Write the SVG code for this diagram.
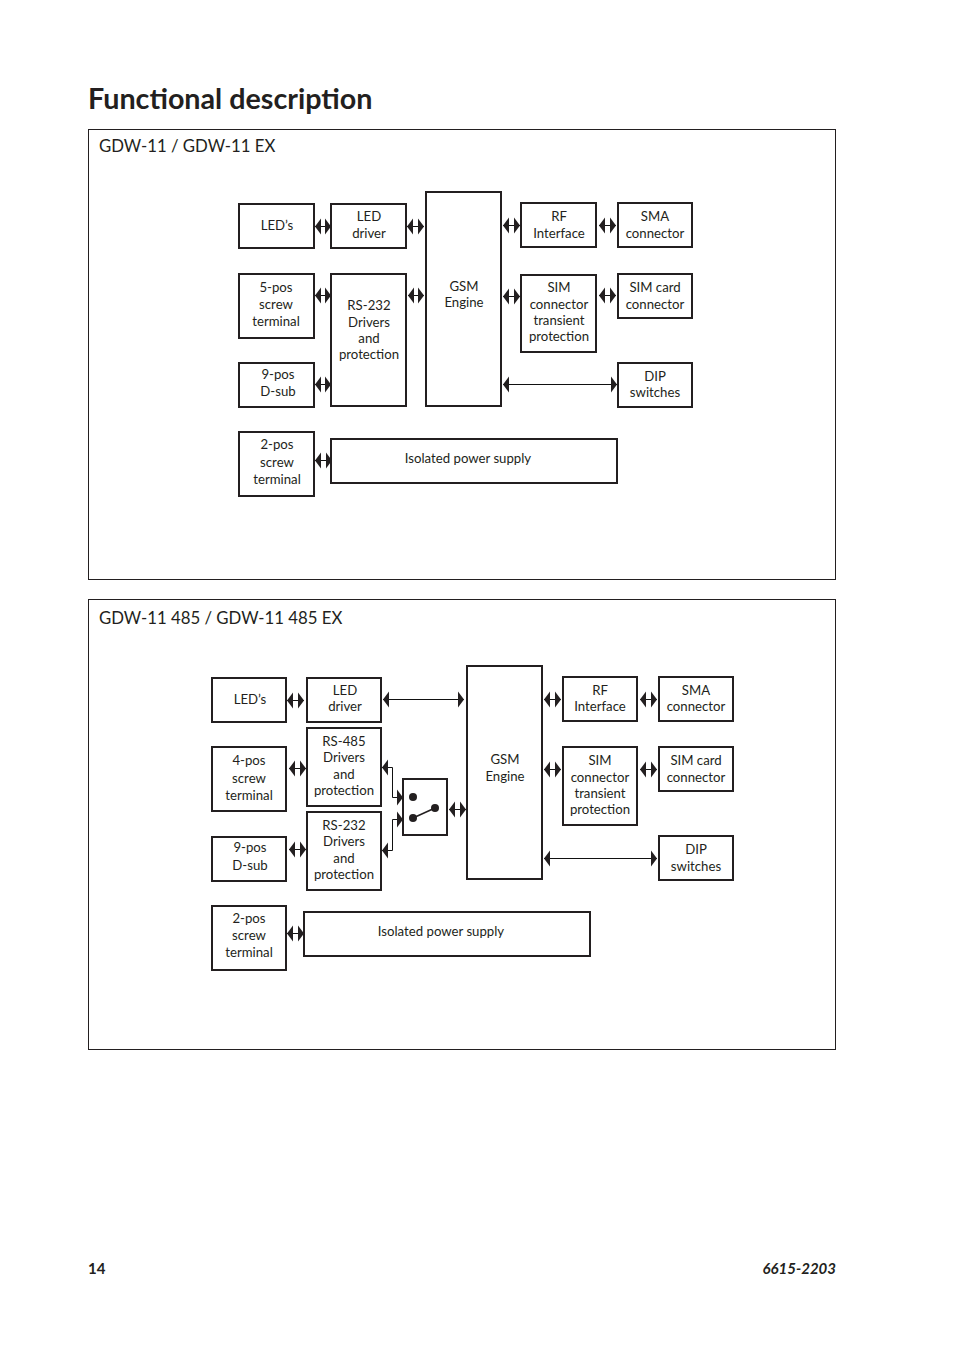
<svg xmlns="http://www.w3.org/2000/svg" width="954" height="1354" viewBox="0 0 954 1354">
<style>
text{font-family:Lato,"Open Sans","Liberation Sans",sans-serif;fill:#231f20}
.b{fill:#fff;stroke:#231f20;stroke-width:2}
.p{fill:#fff;stroke:#231f20;stroke-width:1}
.t{font-size:13.2px;text-anchor:middle}
.h{font-size:16.8px}
.c{fill:none;stroke:#111;stroke-width:1;marker-start:url(#a);marker-end:url(#a)}
.l{fill:none;stroke:#231f20;stroke-width:1.5}
</style>
<defs>
<marker id="a" markerUnits="userSpaceOnUse" markerWidth="7" markerHeight="18" refX="6.500" refY="9" orient="auto-start-reverse" viewBox="0 0 7 18"><path d="M0.500 1V17L6.500 9Z" fill="#231f20"/></marker>
</defs>
<rect width="954" height="1354" fill="#fff"/>
<text x="88" y="109" font-size="28.7" font-weight="700">Functional description</text>
<g id="panel-1"><rect class="p" x="88.5" y="129.5" width="747" height="450"/><text class="h" x="99" y="152">GDW-11 / GDW-11 EX</text></g>
<g id="panel-2"><rect class="p" x="88.5" y="599.5" width="747" height="450"/><text class="h" x="99" y="624">GDW-11 485 / GDW-11 485 EX</text></g>
<g id="connectors">
<path class="c" d="M315 226.500H331"/>
<path class="c" d="M407 226.500H424"/>
<path class="c" d="M503 225.500H520"/>
<path class="c" d="M599 225.500H616"/>
<path class="c" d="M315 295.500H331"/>
<path class="c" d="M408 295.500H424"/>
<path class="c" d="M503 296.500H520"/>
<path class="c" d="M599 295.500H616"/>
<path class="c" d="M315 384.500H331"/>
<path class="c" d="M503 384.500H617"/>
<path class="c" d="M315 460.500H332"/>
<path class="c" d="M287 700.500H304"/>
<path class="c" d="M383 699.500H464"/>
<path class="c" d="M544 699.500H561"/>
<path class="c" d="M640 699.500H657"/>
<path class="c" d="M289 768.500H306"/>
<path class="c" d="M544 769.500H561"/>
<path class="c" d="M640 769.500H657"/>
<path class="c" d="M289 849.500H306"/>
<path class="c" d="M544 858.500H657"/>
<path class="c" d="M287 933.500H304"/>
<path class="c" d="M449 809.500H466"/>
<path class="c" d="M382 767.500H392.500V797.500H403"/>
<path class="c" d="M382 850.500H392.500V819.500H403"/>
</g>
<g id="leds-1"><rect class="b" x="239" y="204" width="75" height="44"/><text class="t" x="277" y="230">LED’s</text></g>
<g id="led-driver-1"><rect class="b" x="331" y="204" width="75" height="44"/><text class="t" x="369" y="221">LED</text><text class="t" x="369" y="238">driver</text></g>
<g id="gsm-1"><rect class="b" x="426" y="192" width="75" height="214"/><text class="t" x="464" y="291">GSM</text><text class="t" x="464" y="307">Engine</text></g>
<g id="rf-1"><rect class="b" x="521" y="203" width="75" height="44"/><text class="t" x="559" y="221">RF</text><text class="t" x="559" y="238">Interface</text></g>
<g id="sma-1"><rect class="b" x="618" y="203" width="74" height="44"/><text class="t" x="655" y="221">SMA</text><text class="t" x="655" y="238">connector</text></g>
<g id="pos5-1"><rect class="b" x="239" y="274" width="75" height="64"/><text class="t" x="276" y="292">5-pos</text><text class="t" x="276" y="309">screw</text><text class="t" x="276" y="326">terminal</text></g>
<g id="rs232-1"><rect class="b" x="331" y="274" width="75" height="132"/><text class="t" x="369" y="310">RS-232</text><text class="t" x="369" y="327">Drivers</text><text class="t" x="369" y="343">and</text><text class="t" x="369" y="359">protection</text></g>
<g id="sim-1"><rect class="b" x="521" y="275" width="75" height="77"/><text class="t" x="559" y="292">SIM</text><text class="t" x="559" y="309">connector</text><text class="t" x="559" y="325">transient</text><text class="t" x="559" y="341">protection</text></g>
<g id="simcard-1"><rect class="b" x="618" y="274" width="74" height="44"/><text class="t" x="655" y="292">SIM card</text><text class="t" x="655" y="309">connector</text></g>
<g id="pos9-1"><rect class="b" x="239" y="363" width="75" height="44"/><text class="t" x="278" y="379">9-pos</text><text class="t" x="278" y="396">D-sub</text></g>
<g id="dip-1"><rect class="b" x="618" y="363" width="74" height="44"/><text class="t" x="655" y="381">DIP</text><text class="t" x="655" y="397">switches</text></g>
<g id="pos2-1"><rect class="b" x="239" y="432" width="75" height="64"/><text class="t" x="277" y="449">2-pos</text><text class="t" x="277" y="467">screw</text><text class="t" x="277" y="484">terminal</text></g>
<g id="psu-1"><rect class="b" x="331" y="439" width="286" height="44"/><text class="t" x="468" y="463">Isolated power supply</text></g>
<g id="leds-2"><rect class="b" x="212" y="678" width="74" height="44"/><text class="t" x="250" y="704">LED’s</text></g>
<g id="led-driver-2"><rect class="b" x="307" y="678" width="74" height="44"/><text class="t" x="345" y="695">LED</text><text class="t" x="345" y="711">driver</text></g>
<g id="gsm-2"><rect class="b" x="467" y="666" width="75" height="213"/><text class="t" x="505" y="764">GSM</text><text class="t" x="505" y="781">Engine</text></g>
<g id="rf-2"><rect class="b" x="563" y="677" width="74" height="44"/><text class="t" x="600" y="695">RF</text><text class="t" x="600" y="711">Interface</text></g>
<g id="sma-2"><rect class="b" x="659" y="677" width="74" height="44"/><text class="t" x="696" y="695">SMA</text><text class="t" x="696" y="711">connector</text></g>
<g id="pos4-2"><rect class="b" x="212" y="747" width="74" height="64"/><text class="t" x="249" y="765">4-pos</text><text class="t" x="249" y="783">screw</text><text class="t" x="249" y="800">terminal</text></g>
<g id="rs485-2"><rect class="b" x="307" y="728" width="74" height="78"/><text class="t" x="344" y="746">RS-485</text><text class="t" x="344" y="762">Drivers</text><text class="t" x="344" y="779">and</text><text class="t" x="344" y="795">protection</text></g>
<g id="rs232-2"><rect class="b" x="307" y="812" width="74" height="78"/><text class="t" x="344" y="830">RS-232</text><text class="t" x="344" y="846">Drivers</text><text class="t" x="344" y="863">and</text><text class="t" x="344" y="879">protection</text></g>
<g id="switch-2"><rect class="b" x="403" y="779" width="44" height="56"/><circle cx="413" cy="797" r="4" fill="#231f20"/><circle cx="413" cy="818" r="4" fill="#231f20"/><circle cx="435" cy="808" r="4" fill="#231f20"/><path class="l" d="M413 818L435 808"/></g>
<g id="sim-2"><rect class="b" x="563" y="747" width="74" height="78"/><text class="t" x="600" y="765">SIM</text><text class="t" x="600" y="782">connector</text><text class="t" x="600" y="798">transient</text><text class="t" x="600" y="814">protection</text></g>
<g id="simcard-2"><rect class="b" x="659" y="747" width="74" height="44"/><text class="t" x="696" y="765">SIM card</text><text class="t" x="696" y="782">connector</text></g>
<g id="pos9-2"><rect class="b" x="212" y="837" width="74" height="44"/><text class="t" x="250" y="852">9-pos</text><text class="t" x="250" y="870">D-sub</text></g>
<g id="dip-2"><rect class="b" x="659" y="836" width="74" height="44"/><text class="t" x="696" y="854">DIP</text><text class="t" x="696" y="871">switches</text></g>
<g id="pos2-2"><rect class="b" x="212" y="906" width="74" height="64"/><text class="t" x="249" y="923">2-pos</text><text class="t" x="249" y="940">screw</text><text class="t" x="249" y="957">terminal</text></g>
<g id="psu-2"><rect class="b" x="304" y="912" width="286" height="44"/><text class="t" x="441" y="936">Isolated power supply</text></g>
<text x="88" y="1274" font-size="15" font-weight="700">14</text>
<text x="836" y="1274" font-size="15" font-weight="700" font-style="italic" text-anchor="end">6615-2203</text>
</svg>
